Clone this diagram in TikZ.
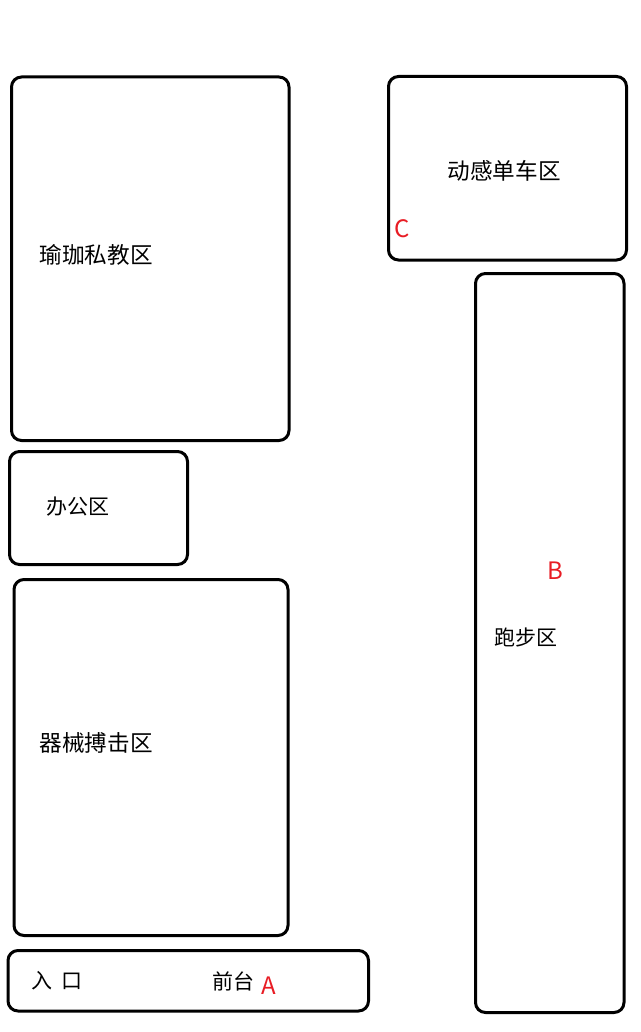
\documentclass[tikz,border=0pt]{standalone}
\usepackage{fontspec}
\setmainfont{Noto Sans CJK SC}
\definecolor{markred}{RGB}{232,28,36}
\tikzset{
	zone/.style={draw=black, line width=3pt, rounded corners=10pt},
	zonelabel/.style={anchor=west, inner sep=0pt, font=\fontsize{22.6}{27}\selectfont},
	smalllabel/.style={zonelabel, font=\fontsize{21}{25}\selectfont},
	pointlabel/.style={anchor=west, inner sep=0pt, text=markred, font=\fontsize{24}{28}\selectfont}
}
\begin{document}
\begin{tikzpicture}[x=1pt, y=-1pt]
			\useasboundingbox (0,0) rectangle (640,1032);
			% Venstre side
			\draw[zone] (11.5,77) rectangle (289,440.5);
			\node[zonelabel] (yoga) at (39.5,255) {瑜珈私教区};
			\draw[zone] (9.5,451.5) rectangle (187.5,564.5);
			\node[smalllabel] (office) at (46.5,507) {办公区};
			\draw[zone] (14,579.5) rectangle (288,935.5);
			\node[zonelabel] (equip) at (39.5,743) {器械搏击区};
			
			% Inngang
			\draw[zone] (8,950.5) rectangle (368.5,1011);
			\node[smalllabel] (entry) at (31.5,981) {入\hspace{0.4em}口};
			\node[smalllabel] (desk) at (212.5,981) {前台};
			\node[pointlabel] (pA) at (261.5,986) {A};
			
			% Hoyre side
			\draw[zone] (388.5,76.5) rectangle (626.5,260);
			\node[zonelabel] (spin) at (447.5,171) {动感单车区};
			\node[pointlabel] (pC) at (394.5,229) {C};
			\draw[zone] (475.5,273.5) rectangle (624,1012.5);
			\node[smalllabel] (run) at (494.5,637) {跑步区};
			\node[pointlabel] (pB) at (547.5,571) {B};
		\end{tikzpicture}
\end{document}
